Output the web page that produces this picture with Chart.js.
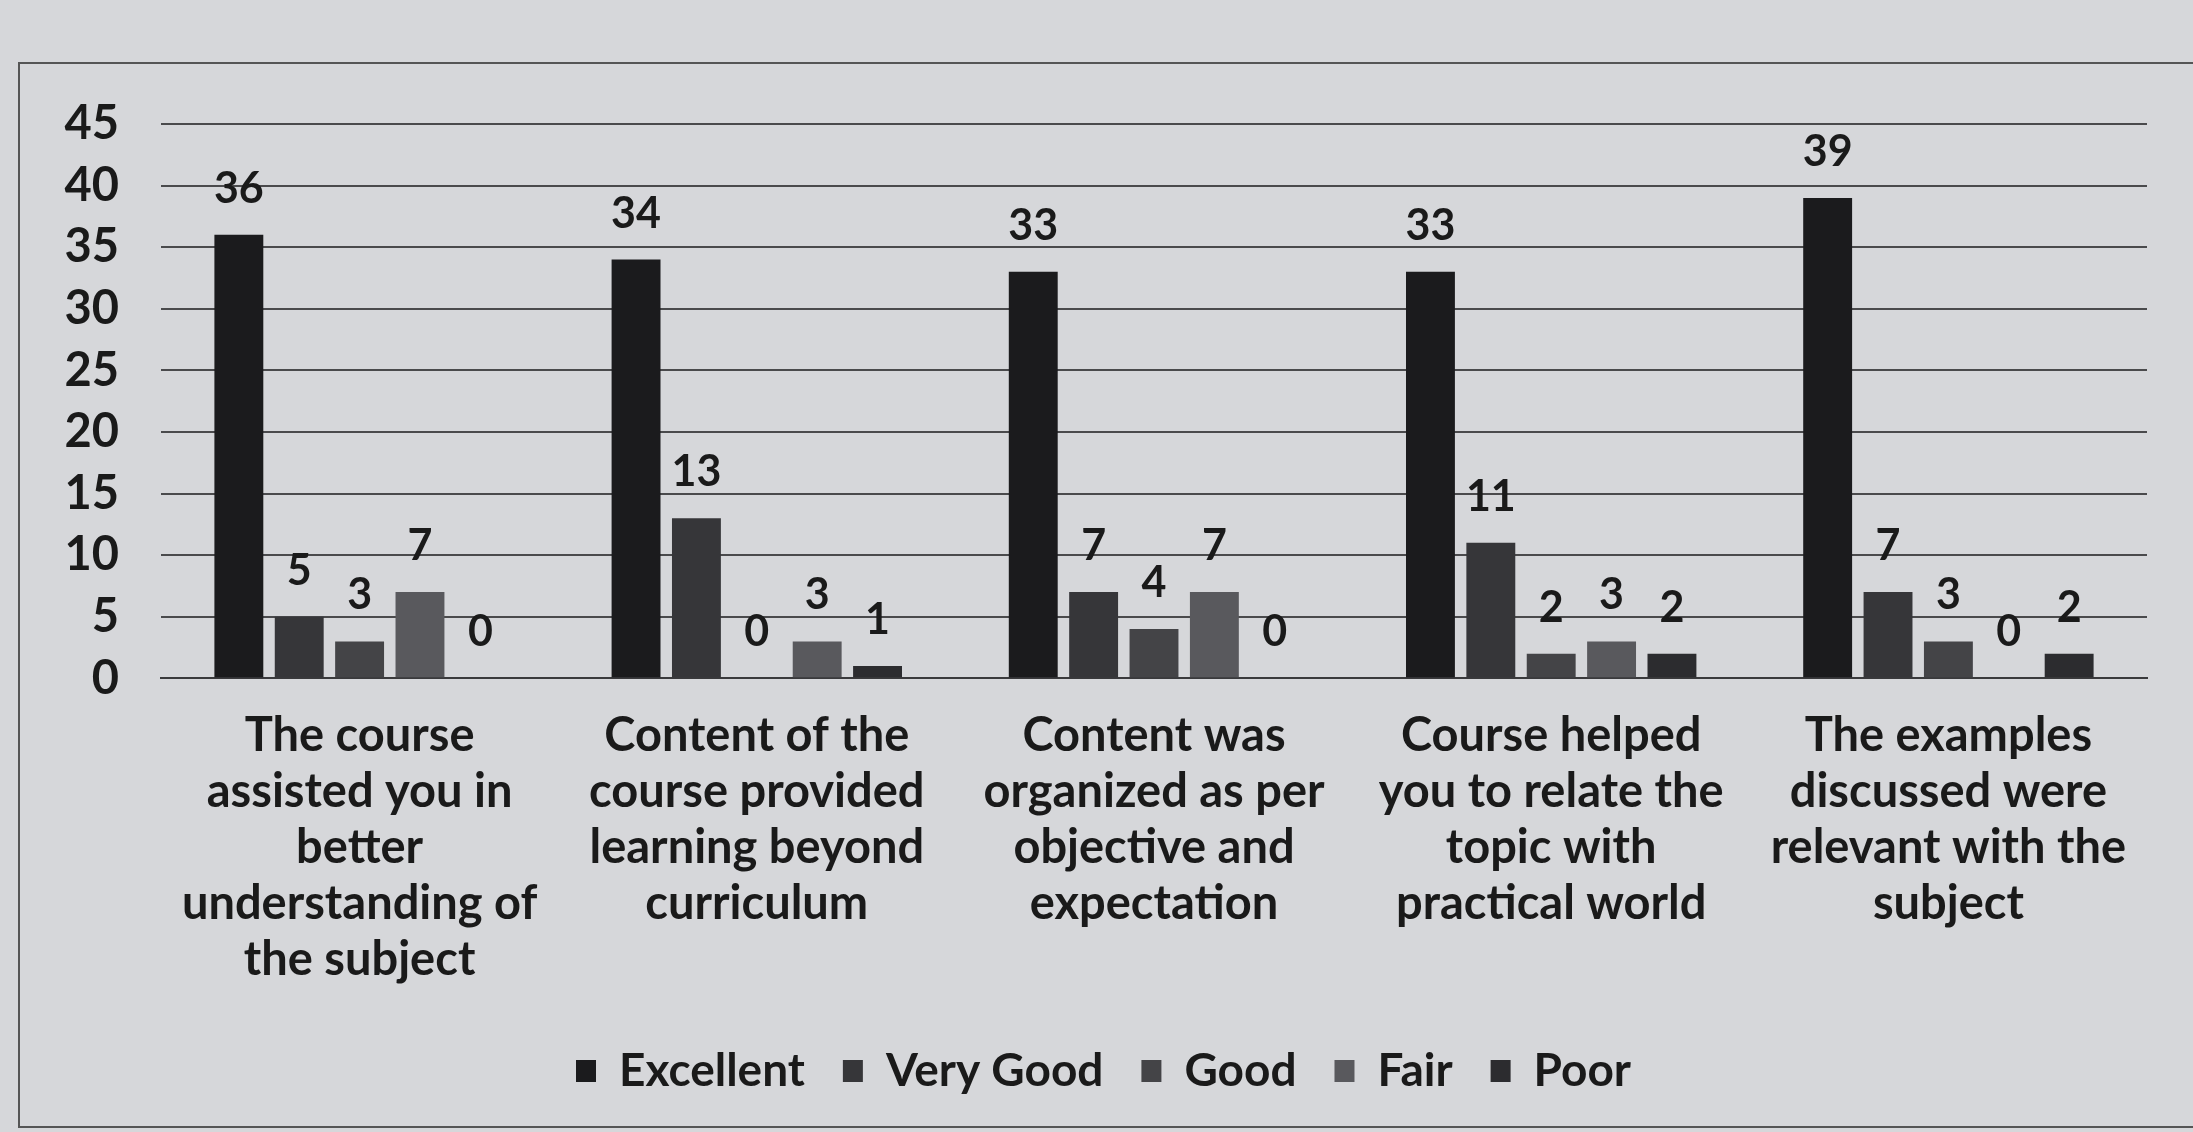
<!DOCTYPE html>
<html>
<head>
<meta charset="utf-8">
<script src="https://cdn.jsdelivr.net/npm/chart.js@4.4.0/dist/chart.umd.min.js"></script>
<style>
  html, body { margin: 0; padding: 0; background: #d6d7da; }
  #wrap { position: relative; width: 2193px; height: 1132px; }
  #frame {
    position: absolute; left: 18px; top: 62px; width: 2200px; height: 1062px;
    border-left: 2px solid #555; border-top: 2px solid #555; border-bottom: 2px solid #555;
    pointer-events: none;
  }
</style>
</head>
<body>
<div id="wrap">
  <canvas id="surveyChart" width="2193" height="1132"></canvas>
  <div id="frame"></div>
</div>
<script>
// categories (multi-line, as in the original)
const categories = [
    ['The course', 'assisted you in', 'better', 'understanding of', 'the subject'],
    ['Content of the', 'course provided', 'learning beyond', 'curriculum'],
    ['Content was', 'organized as per', 'objective and', 'expectation'],
    ['Course helped', 'you to relate the', 'topic with', 'practical world'],
    ['The examples', 'discussed were', 'relevant with the', 'subject']
];

const excellent = [36, 34, 33, 33, 39];
const veryGood  = [5, 13, 7, 11, 7];
const good      = [3, 0, 4, 2, 3];
const fair      = [7, 3, 7, 3, 0];
const poor      = [0, 1, 0, 2, 2];

const yTicks = [0, 5, 10, 15, 20, 25, 30, 35, 40, 45];

const FONT = 'Lato, "Noto Sans", sans-serif';
const INK = '#1a1a1a';

// simple value labels above each bar
const valueLabels = {
    id: 'valueLabels',
    afterDatasetsDraw(chart) {
        const ctx = chart.ctx;
        ctx.save();
        ctx.font = 'bold 43px ' + FONT;
        ctx.fillStyle = INK;
        ctx.textAlign = 'center';
        ctx.textBaseline = 'alphabetic';
        chart.data.datasets.forEach((ds, i) => {
            const meta = chart.getDatasetMeta(i);
            meta.data.forEach((bar, j) => {
                ctx.fillText(String(ds.data[j]), bar.x, bar.y - 32);
            });
        });
        ctx.restore();
    }
};

const ctx = document.getElementById('surveyChart');
new Chart(ctx, {
    type: 'bar',
    data: {
        labels: categories,
        datasets: [
            { label: 'Excellent', data: excellent, backgroundColor: '#1b1b1d' },
            { label: 'Very Good', data: veryGood, backgroundColor: '#363639' },
            { label: 'Good', data: good, backgroundColor: '#444447' },
            { label: 'Fair', data: fair, backgroundColor: '#59595d' },
            { label: 'Poor', data: poor, backgroundColor: '#2c2c2f' }
        ]
    },
    options: {
        responsive: false,
        animation: false,
        datasets: {
            bar: { barPercentage: 0.81, categoryPercentage: 0.76 }
        },
        layout: {
            padding: { left: 60, right: 46, top: 124, bottom: 28 }
        },
        plugins: {
            legend: {
                position: 'bottom',
                labels: {
                    color: INK,
                    font: { family: FONT, size: 46, weight: 'bold' },
                    boxWidth: 20,
                    boxHeight: 22,
                    padding: 38
                }
            },
            tooltip: { enabled: false }
        },
        scales: {
            y: {
                min: 0,
                max: 45,
                afterBuildTicks: (scale) => { scale.ticks = yTicks.map(v => ({ value: v })); },
                afterFit: (scale) => { scale.width = 101; },
                border: { display: false },
                grid: { color: '#4a4a4c', lineWidth: 2, drawTicks: false },
                ticks: {
                    color: INK,
                    padding: 42,
                    autoSkip: false,
                    font: { family: FONT, size: 47, weight: 'bold' }
                }
            },
            x: {
                border: { display: true, color: '#3a3a3c', width: 2 },
                grid: { display: false },
                ticks: {
                    color: INK,
                    padding: 22,
                    maxRotation: 0,
                    font: { family: FONT, size: 47, weight: 'bold', lineHeight: 1.19 }
                }
            }
        }
    },
    plugins: [valueLabels]
});
</script>
</body>
</html>
